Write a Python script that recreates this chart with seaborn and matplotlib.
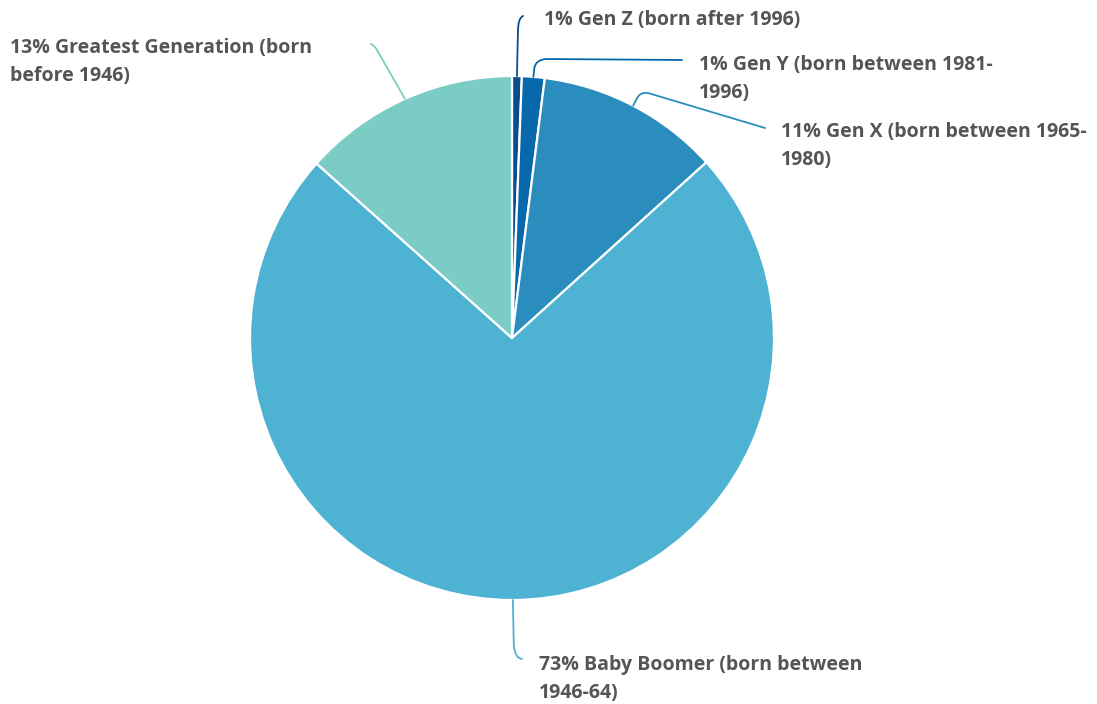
import matplotlib
matplotlib.use("Agg")
import matplotlib.pyplot as plt
from matplotlib.path import Path
from matplotlib.patches import PathPatch
import numpy as np
import seaborn as sns

# Share of members by generation (percent)
generations = [
    "Gen Z (born after 1996)",
    "Gen Y (born between 1981-\n1996)",
    "Gen X (born between 1965-\n1980)",
    "Baby Boomer (born between\n1946-64)",
    "Greatest Generation (born\nbefore 1946)",
]
shares = [0.6, 1.4, 11.3, 73.3, 13.4]
colors = ["#0b4d8c", "#0868ac", "#2b8cbe", "#4eb3d3", "#7bccc4"]

sns.set_theme(style="white")
plt.rcParams["font.family"] = ["Open Sans", "DejaVu Sans"]

W, H = 1097, 704
fig = plt.figure(figsize=(W / 100, H / 100), dpi=100)
ax = fig.add_axes([0, 0, 1, 1])

cx, cy, r = 512, H - 338, 262
wedges, _ = ax.pie(
    shares, colors=colors, startangle=90, counterclock=False,
    center=(cx, cy), radius=r, frame=True,
    wedgeprops=dict(edgecolor="white", linewidth=1.6),
)
ax.set_xlim(0, W)
ax.set_ylim(0, H)
ax.set_aspect("equal")
ax.axis("off")

# label placement (left edge x, top y in pixel rows) and leader curves
label_pos = [(544, 10), (699, 55), (781, 122), (539, 655), (10, 38)]

def anchor(w):
    ang = np.deg2rad((w.theta1 + w.theta2) / 2)
    return cx + r * np.cos(ang), cy + r * np.sin(ang)

def yy(py):
    return H - py

leaders = []
a = anchor(wedges[0])
leaders.append([a, (a[0] + 1, yy(32)), (a[0] + 1, yy(18)), (523, yy(16))])
a = anchor(wedges[1])
leaders.append([a, (a[0] + 1, yy(68)), (a[0] + 2, yy(60)), (546, yy(59)), (682, yy(60))])
a = anchor(wedges[2])
leaders.append([a, (a[0] + 4, yy(98)), (a[0] + 7, yy(92)), (648, yy(93)), (765, yy(128))])
a = anchor(wedges[3])
leaders.append([a, (a[0] + 1, yy(645)), (a[0] + 2, yy(658)), (522, yy(659))])
a = anchor(wedges[4])
leaders.append([a, (377, yy(50)), (374, yy(45)), (371, yy(44))])

codes_list = [
    [Path.MOVETO, Path.LINETO, Path.CURVE3, Path.CURVE3],
    [Path.MOVETO, Path.LINETO, Path.CURVE3, Path.CURVE3, Path.LINETO],
    [Path.MOVETO, Path.LINETO, Path.CURVE3, Path.CURVE3, Path.LINETO],
    [Path.MOVETO, Path.LINETO, Path.CURVE3, Path.CURVE3],
    [Path.MOVETO, Path.LINETO, Path.CURVE3, Path.CURVE3],
]

for pts, codes, col in zip(leaders, codes_list, colors):
    ax.add_patch(PathPatch(Path(pts, codes), facecolor="none", edgecolor=col,
                           linewidth=1.3, capstyle="round"))

for gen, val, (lx, ly) in zip(generations, shares, label_pos):
    ax.text(lx, yy(ly), f"{val:.0f}% {gen}", ha="left", va="top",
            fontsize=14, fontweight="bold", color="#555555", linespacing=1.55)

fig.savefig("out.png", dpi=100, facecolor="white")
